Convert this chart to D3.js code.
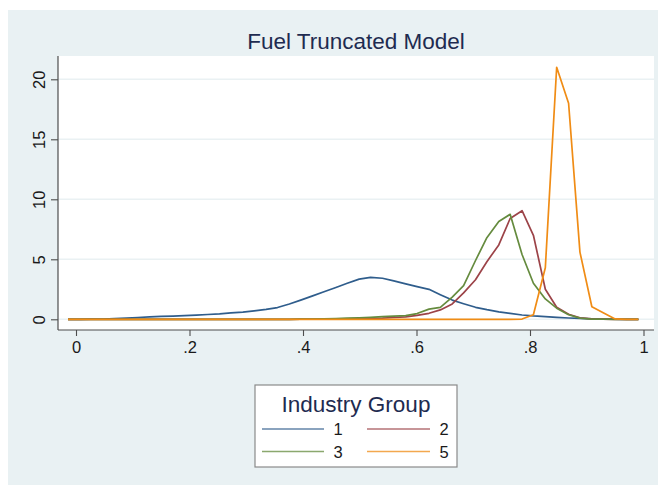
<!DOCTYPE html>
<html>
<head>
<meta charset="utf-8">
<script src="https://cdn.jsdelivr.net/npm/d3@7"></script>
<style>
  html, body { margin: 0; padding: 0; background: #ffffff; }
  svg { display: block; font-family: "Liberation Sans", Arial, Helvetica, sans-serif; }
</style>
</head>
<body>
<svg id="chart" width="658" height="485"></svg>
<script>
// Evaluation grid shared by all kernel density estimates
const gridX = [-0.014, 0.007, 0.027, 0.048, 0.068, 0.089, 0.109, 0.130, 0.150, 0.171,
               0.191, 0.212, 0.232, 0.253, 0.273, 0.294, 0.314, 0.335, 0.355, 0.376,
               0.396, 0.417, 0.437, 0.458, 0.478, 0.499, 0.519, 0.540, 0.560, 0.581,
               0.601, 0.622, 0.642, 0.663, 0.683, 0.704, 0.724, 0.745, 0.765, 0.786,
               0.806, 0.827, 0.847, 0.868, 0.888, 0.909, 0.929, 0.950, 0.970, 0.991];

// Density values per industry group
const group1 = [0, 0, 0.01, 0.02, 0.05, 0.1, 0.15, 0.2, 0.24, 0.27,
                0.3, 0.35, 0.4, 0.45, 0.53, 0.6, 0.7, 0.82, 0.98, 1.28,
                1.6, 1.95, 2.3, 2.65, 3.0, 3.35, 3.5, 3.42, 3.2, 2.95,
                2.72, 2.5, 2.05, 1.6, 1.3, 1.0, 0.8, 0.62, 0.5, 0.36,
                0.28, 0.22, 0.16, 0.11, 0.07, 0.04, 0.02, 0.01, 0, 0];
const group2 = [0, 0, 0, 0, 0, 0, 0, 0, 0, 0,
                0, 0, 0, 0, 0, 0, 0, 0, 0, 0,
                0.01, 0.01, 0.02, 0.03, 0.04, 0.06, 0.08, 0.1, 0.15, 0.2,
                0.32, 0.5, 0.78, 1.28, 2.2, 3.3, 4.8, 6.2, 8.4, 9.05,
                7.0, 2.5, 1.0, 0.42, 0.13, 0.03, 0.01, 0, 0, 0];
const group3 = [0, 0, 0, 0, 0, 0, 0, 0, 0, 0,
                0, 0, 0, 0, 0, 0, 0, 0, 0, 0,
                0.01, 0.02, 0.04, 0.06, 0.09, 0.12, 0.16, 0.22, 0.27, 0.3,
                0.48, 0.85, 1.0, 1.85, 2.8, 4.9, 6.8, 8.15, 8.75, 5.4,
                3.0, 1.7, 0.93, 0.38, 0.1, 0.02, 0.01, 0, 0, 0];
const group5 = [0, 0, 0, 0, 0, 0, 0, 0, 0, 0,
                0, 0, 0, 0, 0, 0, 0, 0, 0, 0,
                0, 0, 0, 0, 0, 0, 0, 0, 0, 0,
                0, 0, 0, 0, 0, 0, 0, 0, 0, 0.02,
                0.38, 4.3, 21.0, 18.0, 5.6, 1.05, 0.55, 0.03, 0, 0];

const groupNames = ["1", "2", "3", "5"];
const groupValues = [group1, group2, group3, group5];
const groupColors = ["#2f5d8c", "#9c4348", "#658b3e", "#f08c15"];

const xTicks = [0, 0.2, 0.4, 0.6, 0.8, 1];
const xTickLabels = ["0", ".2", ".4", ".6", ".8", "1"];
const yTicks = [0, 5, 10, 15, 20];
const yTickLabels = ["0", "5", "10", "15", "20"];

const titleText = "Fuel Truncated Model";
const legendTitle = "Industry Group";

// Layout
const W = 658, H = 485;
const plot = { left: 58, right: 654, top: 56, bottom: 330 };
const tickFont = 16.5;

const svg = d3.select("#chart");

const x = d3.scaleLinear().domain([0, 1]).range([76, 643.5]);
const y = d3.scaleLinear().domain([0, 20]).range([319.3, 79.3]);

// Graph region background
svg.append("rect")
  .attr("x", 8).attr("y", 10)
  .attr("width", W - 8).attr("height", H - 10)
  .attr("fill", "#e9f1f3");

// Plot region
svg.append("rect")
  .attr("x", plot.left).attr("y", plot.top)
  .attr("width", plot.right - plot.left).attr("height", plot.bottom - plot.top)
  .attr("fill", "#ffffff");

// Horizontal grid lines
svg.append("g")
  .selectAll("line")
  .data(yTicks)
  .join("line")
  .attr("x1", plot.left).attr("x2", plot.right)
  .attr("y1", d => y(d)).attr("y2", d => y(d))
  .attr("stroke", "#eaf1f3")
  .attr("stroke-width", 1.6);

// Title
svg.append("text")
  .attr("x", (plot.left + plot.right) / 2)
  .attr("y", 49)
  .attr("text-anchor", "middle")
  .attr("font-size", 22.5)
  .attr("fill", "#1e2b50")
  .text(titleText);

// Y axis
const yAxis = d3.axisLeft(y)
  .tickValues(yTicks)
  .tickFormat((d, i) => yTickLabels[i])
  .tickSize(7)
  .tickSizeOuter(0);
const gy = svg.append("g")
  .attr("transform", `translate(${plot.left},0)`)
  .call(yAxis);
gy.select(".domain").remove();
gy.selectAll(".tick line").attr("stroke", "#4d4d4d").attr("stroke-width", 1.1);
gy.selectAll(".tick text")
  .attr("x", null).attr("dy", null)
  .attr("transform", "translate(-13,0) rotate(-90)")
  .attr("text-anchor", "middle")
  .attr("font-size", tickFont)
  .attr("font-family", "Liberation Sans, Arial, sans-serif")
  .attr("fill", "#1a1a1a");

// X axis
const xAxis = d3.axisBottom(x)
  .tickValues(xTicks)
  .tickFormat((d, i) => xTickLabels[i])
  .tickSize(6)
  .tickSizeOuter(0);
const gx = svg.append("g")
  .attr("transform", `translate(0,${plot.bottom})`)
  .call(xAxis);
gx.select(".domain").remove();
gx.selectAll(".tick line").attr("stroke", "#4d4d4d").attr("stroke-width", 1.1);
gx.selectAll(".tick text")
  .attr("y", 22.5).attr("dy", null)
  .attr("font-size", tickFont)
  .attr("font-family", "Liberation Sans, Arial, sans-serif")
  .attr("fill", "#1a1a1a");

// Axis lines spanning the plot region
svg.append("line")
  .attr("x1", plot.left).attr("x2", plot.left)
  .attr("y1", plot.top).attr("y2", plot.bottom)
  .attr("stroke", "#4d4d4d").attr("stroke-width", 1.2);
svg.append("line")
  .attr("x1", plot.left).attr("x2", plot.right)
  .attr("y1", plot.bottom).attr("y2", plot.bottom)
  .attr("stroke", "#4d4d4d").attr("stroke-width", 1.2);

// Density curves
const line = d3.line()
  .x(d => x(d[0]))
  .y(d => y(d[1]));

svg.append("g")
  .selectAll("path")
  .data(groupValues.map((vals, i) => ({ i, pts: gridX.map((gx, k) => [gx, vals[k]]) })))
  .join("path")
  .attr("d", d => line(d.pts))
  .attr("fill", "none")
  .attr("stroke", d => groupColors[d.i])
  .attr("stroke-width", 1.7)
  .attr("stroke-linejoin", "round");

// Legend
const lg = svg.append("g");
lg.append("rect")
  .attr("x", 255).attr("y", 385)
  .attr("width", 202).attr("height", 82)
  .attr("fill", "#ffffff")
  .attr("stroke", "#8a8a8a")
  .attr("stroke-width", 1.2);
lg.append("text")
  .attr("x", 356).attr("y", 412)
  .attr("text-anchor", "middle")
  .attr("font-size", 22.5)
  .attr("fill", "#1e2b50")
  .text(legendTitle);

const colLine = [[262, 324], [367, 430]];
const colLabel = [338, 444];
const rowY = [429, 451.5];

groupNames.forEach((name, i) => {
  const c = i % 2, r = Math.floor(i / 2);
  lg.append("line")
    .attr("x1", colLine[c][0]).attr("x2", colLine[c][1])
    .attr("y1", rowY[r]).attr("y2", rowY[r])
    .attr("stroke", groupColors[i])
    .attr("stroke-width", 1.7)
    .attr("opacity", 0.75);
  lg.append("text")
    .attr("x", colLabel[c]).attr("y", rowY[r] + 6)
    .attr("text-anchor", "middle")
    .attr("font-size", tickFont)
    .attr("fill", "#1a1a1a")
    .text(name);
});
</script>
</body>
</html>
